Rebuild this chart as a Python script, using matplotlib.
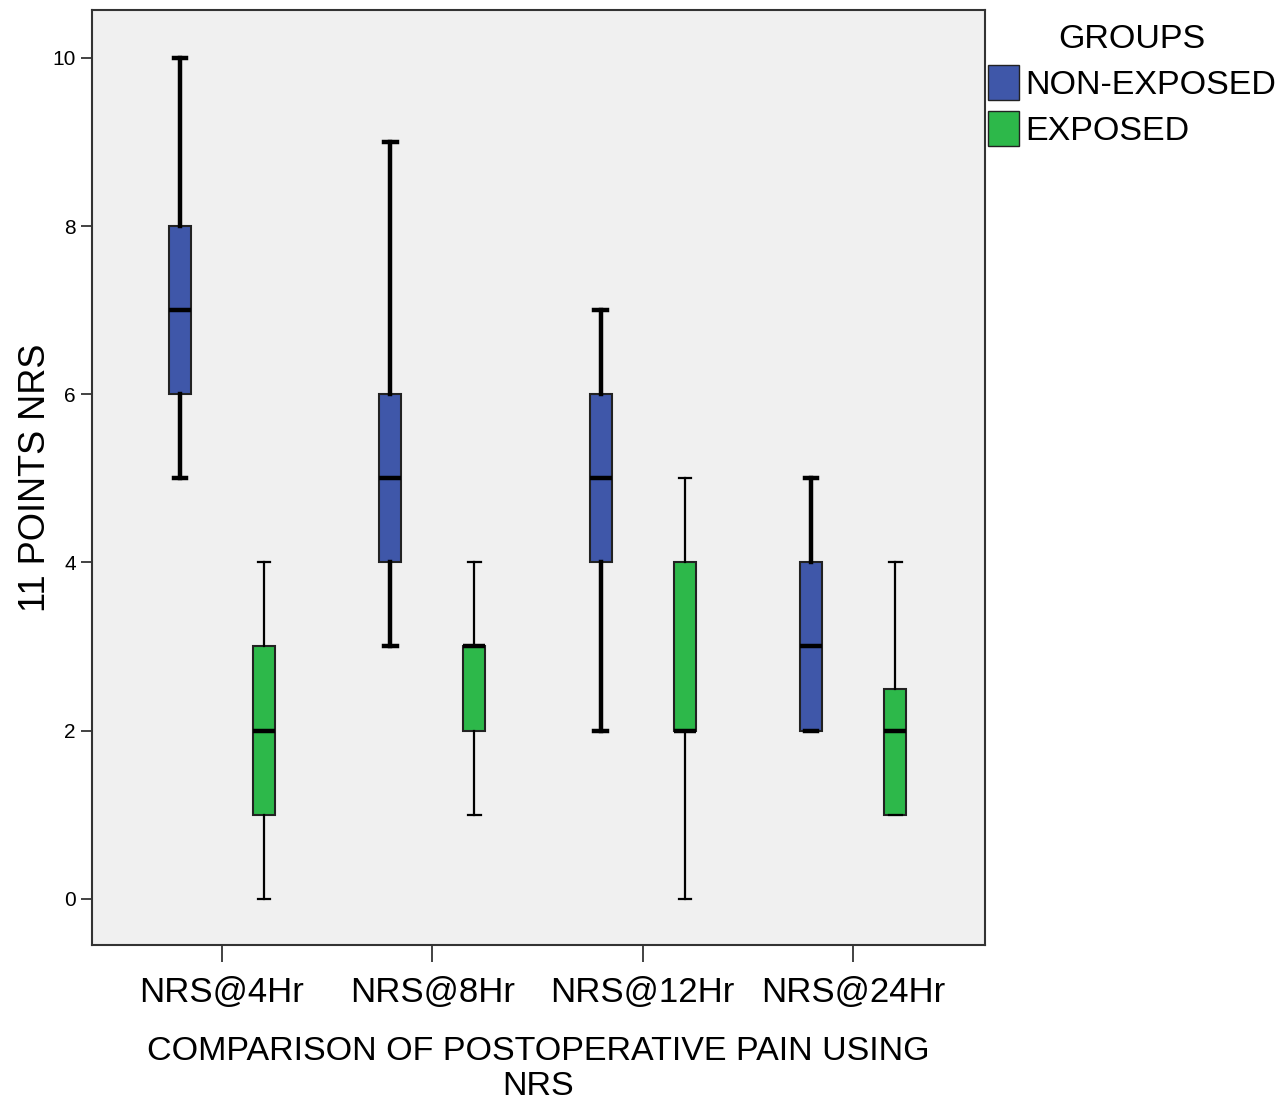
import numpy as np
import matplotlib.pyplot as plt
from matplotlib.patches import Patch

plt.rcParams['font.family'] = ['Liberation Sans', 'DejaVu Sans']

# data
categories = ['NRS@4Hr', 'NRS@8Hr', 'NRS@12Hr', 'NRS@24Hr']
groups = ['NON-EXPOSED', 'EXPOSED']

# non-exposed
ne_low = [5, 3, 2, 2]
ne_q1 = [6, 4, 4, 2]
ne_med = [7, 5, 5, 3]
ne_q3 = [8, 6, 6, 4]
ne_high = [10, 9, 7, 5]

# exposed
ex_low = [0, 1, 0, 1]
ex_q1 = [1, 2, 2, 1]
ex_med = [2, 3, 2, 2]
ex_q3 = [3, 3, 4, 2.5]
ex_high = [4, 4, 5, 4]

blue = '#3f57a9'
green = '#2db84a'


def stats(lo, q1, med, q3, hi):
    return [dict(whislo=a, q1=b, med=c, q3=d, whishi=e, fliers=[])
            for a, b, c, d, e in zip(lo, q1, med, q3, hi)]


fig = plt.figure(figsize=(12.86, 11.01), dpi=100)
ax = fig.add_axes([0.0715, 0.1417, 0.6945, 0.8493])
ax.set_facecolor('#f0f0f0')

x = np.arange(len(categories))
off = 0.2
w = 0.105

for st, pos, col, lw in [(stats(ne_low, ne_q1, ne_med, ne_q3, ne_high), x - off, blue, 3.2),
                         (stats(ex_low, ex_q1, ex_med, ex_q3, ex_high), x + off, green, 1.6)]:
    ax.bxp(st, positions=pos, widths=w, patch_artist=True, showfliers=False,
           boxprops=dict(facecolor=col, edgecolor='#222222', linewidth=1.5),
           medianprops=dict(color='black', linewidth=3.2),
           whiskerprops=dict(color='black', linewidth=lw),
           capprops=dict(color='black', linewidth=lw), capwidths=0.06)

ax.set_xlim(-0.618, 3.627)
ax.set_ylim(-0.55, 10.57)
ax.set_yticks([0, 2, 4, 6, 8, 10])
ax.set_xticks(x)
ax.set_xticklabels(categories, fontsize=25)
ax.tick_params(axis='y', labelsize=15, length=8, width=1.2, colors='#222222')
ax.tick_params(axis='x', length=12, width=1.2, pad=10, colors='#222222')
for lab in ax.get_xticklabels() + ax.get_yticklabels():
    lab.set_color('black')
for s in ax.spines.values():
    s.set_color('#333333')
    s.set_linewidth(1.5)

ax.set_ylabel('11 POINTS NRS', fontsize=26, labelpad=0)
ax.set_xlabel('COMPARISON OF POSTOPERATIVE PAIN USING\nNRS', fontsize=24.5,
              linespacing=1.15, labelpad=20)

handles = [Patch(facecolor=blue, edgecolor='#222222'),
           Patch(facecolor=green, edgecolor='#222222')]
leg = fig.legend(handles, groups, loc='upper left', bbox_to_anchor=(0.758, 0.991),
                 frameon=False, fontsize=24.5, title='GROUPS', title_fontsize=24.5,
                 handlelength=0.9, handleheight=1.2, handletextpad=0.18,
                 labelspacing=0.3, borderaxespad=0)

fig.savefig('out.png', dpi=100)
